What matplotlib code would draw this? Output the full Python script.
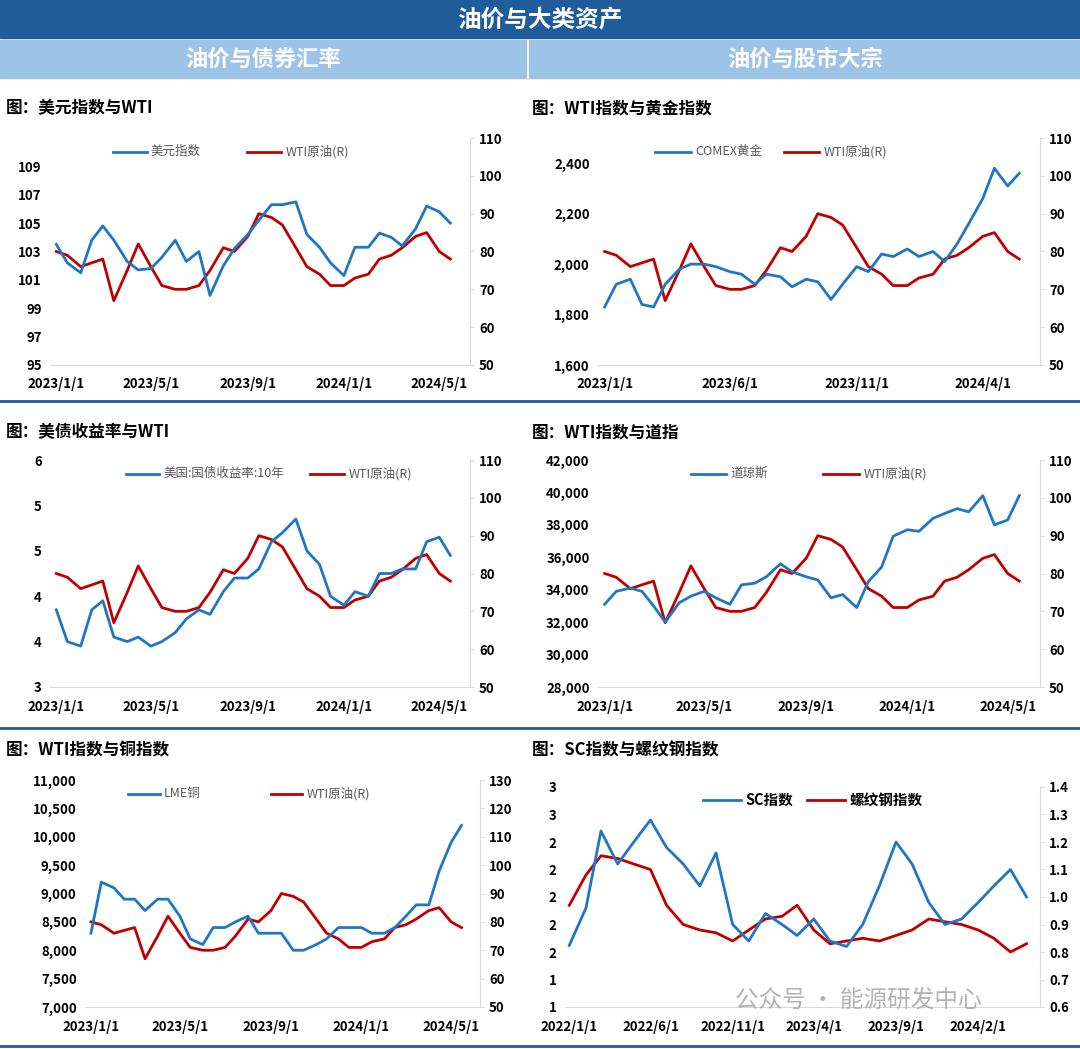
import matplotlib
matplotlib.use("Agg")
import matplotlib.pyplot as plt
import pandas as pd
from matplotlib.lines import Line2D

plt.rcParams['font.family'] = ['Noto Sans CJK SC', 'DejaVu Sans']

dates = pd.date_range("2023-01-01", periods=34, freq="SMS")
wti = [80,79,76,77,78,67,75,82,76,71,70,70,71,75,81,80,84,90,89,87,81,76,74,71,71,73,74,78,79,81,84,85,80,78]
dxy = [103.5,102.2,101.5,103.8,104.8,103.8,102.3,101.7,101.8,102.6,103.8,102.3,103.0,99.9,102.0,103.2,104.2,105.2,106.3,106.3,106.5,104.2,103.3,102.2,101.3,103.3,103.3,104.3,104.0,103.4,104.6,106.2,105.8,105.0]
gold = [1830,1920,1940,1840,1830,1920,1980,2000,2000,1990,1970,1960,1920,1960,1950,1910,1940,1930,1860,1920,1990,1970,2040,2030,2060,2030,2050,2010,2080,2160,2260,2380,2310,2360]
ust10 = [3.85,3.5,3.45,3.85,3.95,3.55,3.5,3.55,3.45,3.5,3.6,3.75,3.85,3.8,4.05,4.2,4.2,4.3,4.6,4.7,4.85,4.5,4.35,4.0,3.9,4.05,4.0,4.25,4.25,4.3,4.3,4.6,4.65,4.45]
dow = [33100,33900,34100,33900,33000,32000,33200,33600,33900,33500,33100,34300,34400,34800,35600,35100,34800,34600,33500,33700,32900,34500,35400,37300,37700,37600,38400,38700,39000,38800,39800,38000,38300,39800]
copper = [8300,9200,9100,8900,8900,8700,8900,8900,8600,8200,8100,8400,8400,8500,8600,8300,8300,8300,8000,8000,8100,8200,8400,8400,8400,8300,8300,8400,8600,8800,8800,9400,9900,10200]

dates2 = pd.date_range("2022-01-01", periods=29, freq="MS")
sc = [1.56,1.9,2.6,2.3,2.5,2.7,2.45,2.3,2.1,2.4,1.75,1.6,1.85,1.75,1.65,1.8,1.6,1.55,1.75,2.1,2.5,2.3,1.95,1.75,1.8,1.95,2.1,2.25,2.0]
rebar = [0.97,1.08,1.15,1.14,1.12,1.1,0.97,0.9,0.88,0.87,0.84,0.88,0.92,0.93,0.97,0.88,0.83,0.84,0.85,0.84,0.86,0.88,0.92,0.91,0.9,0.88,0.85,0.8,0.83]

BLUE = "#1f77c4"
RED = "#c00000"
W, H = 1080, 1049
fig = plt.figure(figsize=(W/100, H/100), dpi=100)

def fx(x): return x / W
def fy(y): return 1 - y / H

fig.patches.append(plt.Rectangle((0, fy(38)), 1, 38/H, transform=fig.transFigure, color="#1f5c99"))
fig.text(0.5, fy(20), "油价与大类资产", ha="center", va="center", color="white", fontsize=17, fontweight="bold")
fig.patches.append(plt.Rectangle((0, fy(78)), fx(526), 38/H, transform=fig.transFigure, color="#9dc3e6"))
fig.patches.append(plt.Rectangle((fx(529), fy(78)), 1 - fx(529), 38/H, transform=fig.transFigure, color="#9dc3e6"))
fig.text(fx(263), fy(59), "油价与债券汇率", ha="center", va="center", color="white", fontsize=16, fontweight="bold")
fig.text(fx(805), fy(59), "油价与股市大宗", ha="center", va="center", color="white", fontsize=16, fontweight="bold")
for yy in (401, 728, 1046):
    fig.add_artist(Line2D([0, 1], [fy(yy), fy(yy)], transform=fig.transFigure, color="#1f5c99", lw=2))

def panel(x0, x1, y0, y1, title, tx, ty, d, left, lname, llim, lticks, lfmt, right, rname, rlim, rticks, xticks, xlabels,
          legx=(0.25, 0.6), ltlabels=None, bold_leg=False, rfmt=None):
    ax = fig.add_axes([fx(x0), fy(y1), fx(x1 - x0), (y1 - y0) / H])
    ax2 = ax.twinx()
    ax.plot(d, left, color=BLUE, lw=2)
    ax2.plot(d, right, color=RED, lw=2)
    ax.set_zorder(ax2.get_zorder() + 1); ax.patch.set_visible(False)
    ax.set_ylim(*llim); ax2.set_ylim(*rlim)
    ax.set_yticks(lticks)
    ax.set_yticklabels(ltlabels if ltlabels else [lfmt(v) for v in lticks])
    ax2.set_yticks(rticks)
    ax2.set_yticklabels([rfmt(v) if rfmt else str(v) for v in rticks])
    ax.set_xticks(pd.to_datetime(xticks)); ax.set_xticklabels(xlabels)
    ax.set_xlim(pd.Timestamp(xticks[0]) - pd.Timedelta(days=8), d[-1] + pd.Timedelta(days=25))
    for a in (ax, ax2):
        for s in a.spines.values(): s.set_visible(False)
        a.tick_params(length=0, labelsize=9.5)
        for lab in a.get_yticklabels() + a.get_xticklabels(): lab.set_fontweight("bold")
    ax.tick_params(axis="x", pad=9)
    ax.tick_params(axis="y", pad=6)
    ax.spines["bottom"].set_visible(True); ax.spines["bottom"].set_color("#d9d9d9")
    ax2.spines["right"].set_visible(True); ax2.spines["right"].set_color("#d9d9d9")
    ax2.tick_params(axis="y", length=3, color="#d9d9d9")
    fs = 10.5 if bold_leg else 9
    fw = "bold" if bold_leg else "normal"
    tc = "black" if bold_leg else "#595959"
    for (xl, nm, c) in ((legx[0], lname, BLUE), (legx[1], rname, RED)):
        ax.add_line(Line2D([xl - 0.09, xl - 0.01], [0.94, 0.94], transform=ax.transAxes, color=c, lw=2))
        ax.text(xl, 0.94, nm, transform=ax.transAxes, va="center", fontsize=fs, fontweight=fw, color=tc)
    fig.text(fx(tx), fy(ty), title, fontsize=12, fontweight="bold", va="center")
    return ax

xt1 = ["2023-01-01", "2023-05-01", "2023-09-01", "2024-01-01", "2024-05-01"]
xl1 = ["2023/1/1", "2023/5/1", "2023/9/1", "2024/1/1", "2024/5/1"]
int_fmt = lambda v: f"{int(v)}"
comma = lambda v: f"{int(v):,}"

panel(50, 470, 138, 365, "图：美元指数与WTI", 6, 108, dates, dxy, "美元指数", (95, 111), [95,97,99,101,103,105,107,109], int_fmt,
      wti, "WTI原油(R)", (50, 110), [50,60,70,80,90,100,110], xt1, xl1, legx=(0.24, 0.56))
panel(598, 1040, 138, 365, "图：WTI指数与黄金指数", 532, 108, dates, gold, "COMEX黄金", (1600, 2500), [1600,1800,2000,2200,2400], comma,
      wti, "WTI原油(R)", (50, 110), [50,60,70,80,90,100,110],
      ["2023-01-01", "2023-06-01", "2023-11-01", "2024-04-01"], ["2023/1/1", "2023/6/1", "2023/11/1", "2024/4/1"], legx=(0.22, 0.51))
panel(50, 470, 460, 687, "图：美债收益率与WTI", 6, 432, dates, ust10, "美国:国债收益率:10年", (3, 5.5), [3,3.5,4,4.5,5,5.5], int_fmt,
      wti, "WTI原油(R)", (50, 110), [50,60,70,80,90,100,110], xt1, xl1, legx=(0.27, 0.71),
      ltlabels=["3","4","4","5","5","6"])
panel(598, 1040, 460, 687, "图：WTI指数与道指", 532, 432, dates, dow, "道琼斯", (28000, 42000), [28000,30000,32000,34000,36000,38000,40000,42000], comma,
      wti, "WTI原油(R)", (50, 110), [50,60,70,80,90,100,110], xt1, xl1, legx=(0.3, 0.6))
panel(85, 480, 780, 1007, "图：WTI指数与铜指数", 6, 750, dates, copper, "LME铜", (7000, 11000), [7000,7500,8000,8500,9000,9500,10000,10500,11000], comma,
      wti, "WTI原油(R)", (50, 130), [50,60,70,80,90,100,110,120,130], xt1, xl1, legx=(0.2, 0.56))
panel(565, 1040, 787, 1007, "图：SC指数与螺纹钢指数", 532, 750, dates2, sc, "SC指数", (1, 3), [1,1.25,1.5,1.75,2,2.25,2.5,2.75,3], int_fmt,
      rebar, "螺纹钢指数", (0.6, 1.4), [0.6,0.7,0.8,0.9,1.0,1.1,1.2,1.3,1.4],
      ["2022-01-01","2022-06-01","2022-11-01","2023-04-01","2023-09-01","2024-02-01"],
      ["2022/1/1","2022/6/1","2022/11/1","2023/4/1","2023/9/1","2024/2/1"], legx=(0.38, 0.6),
      ltlabels=["1","1","2","2","2","2","2","3","3"], bold_leg=True, rfmt=lambda v: f"{v:.1f}")

fig.text(fx(735), fy(1000), "公众号 · 能源研发中心", fontsize=17, color="#a0a0a0", va="center", alpha=0.8)
fig.savefig("out.png", dpi=100)
